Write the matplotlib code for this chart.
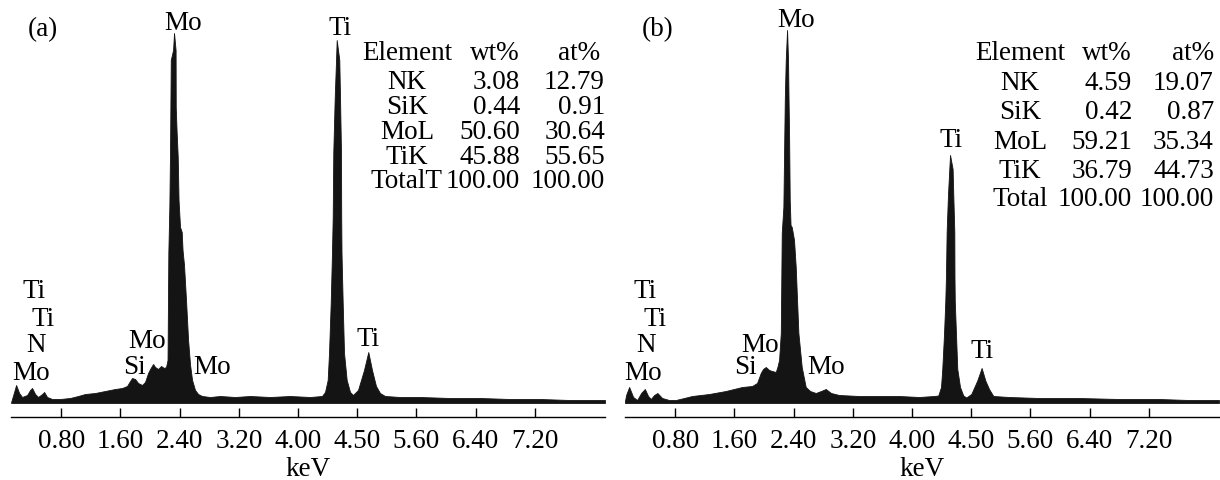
import matplotlib
matplotlib.use('Agg')
import matplotlib.pyplot as plt

plt.rcParams['font.family'] = ['Liberation Serif', 'DejaVu Serif']
plt.rcParams['font.size'] = 19.5

# spectrum (a): energy in keV, intensity in arbitrary units
energy_a = [0.122, 0.162, 0.189, 0.230, 0.270, 0.338, 0.378, 0.405, 0.446, 0.486,
            0.541, 0.568, 0.608, 0.676, 0.784, 0.919, 1.027, 1.122, 1.257, 1.392,
            1.527, 1.622, 1.689, 1.730, 1.757, 1.797, 1.838, 1.892, 1.932, 1.973,
            2.000, 2.041, 2.068, 2.108, 2.149, 2.189, 2.216, 2.236, 2.247, 2.261,
            2.270, 2.280, 2.311, 2.324, 2.345, 2.347, 2.358, 2.374, 2.385, 2.405,
            2.428, 2.439, 2.459, 2.486, 2.514, 2.541, 2.568, 2.608, 2.649, 2.703,
            2.811, 2.946, 3.149, 3.351, 3.622, 3.892, 4.162, 4.324, 4.365, 4.401,
            4.419, 4.442, 4.459, 4.469, 4.477, 4.496, 4.514, 4.523, 4.558, 4.568,
            4.581, 4.584, 4.588, 4.604, 4.622, 4.658, 4.703, 4.743, 4.811, 4.892,
            4.950, 5.000, 5.054, 5.108, 5.176, 5.378, 5.649, 6.054, 6.459, 6.865,
            7.270, 7.676, 8.149]
counts_a = [1, 11, 18, 10, 6, 8, 13, 15, 9, 6,
            9, 11, 6, 4, 4, 5, 7, 9, 10, 12,
            14, 15, 17, 22, 25, 24, 20, 18, 21, 30,
            34, 39, 36, 34, 37, 35, 36, 43, 150, 198,
            253, 343, 353, 370, 353, 296, 273, 246, 203, 176,
            171, 153, 138, 103, 63, 38, 23, 13, 9, 7,
            6, 7, 6, 7, 6, 7, 6, 7, 11, 23,
            50, 100, 150, 186, 251, 305, 343, 363, 343, 305,
            251, 186, 150, 100, 50, 23, 11, 8, 13, 33,
            51, 33, 17, 10, 7, 6, 6, 5, 5, 4,
            4, 3, 3]

# spectrum (b)
energy_b = [0.120, 0.135, 0.176, 0.230, 0.284, 0.338, 0.388, 0.432, 0.469, 0.514,
            0.558, 0.622, 0.716, 0.807, 0.919, 1.027, 1.257, 1.482, 1.703, 1.838,
            1.905, 1.955, 1.986, 2.023, 2.068, 2.108, 2.158, 2.180, 2.203, 2.226,
            2.239, 2.261, 2.280, 2.293, 2.311, 2.324, 2.331, 2.338, 2.347, 2.358,
            2.374, 2.405, 2.428, 2.464, 2.509, 2.563, 2.622, 2.699, 2.770, 2.834,
            2.905, 3.014, 3.284, 3.554, 3.824, 4.095, 4.297, 4.355, 4.392, 4.409,
            4.432, 4.450, 4.459, 4.468, 4.486, 4.504, 4.514, 4.549, 4.558, 4.572,
            4.574, 4.578, 4.595, 4.612, 4.649, 4.693, 4.734, 4.801, 4.882, 4.941,
            4.991, 5.041, 5.099, 5.311, 5.716, 6.257, 6.797, 7.338, 7.743, 8.149]
counts_b = [2, 8, 16, 6, 3, 10, 14, 7, 4, 8,
            10, 5, 3, 3, 5, 7, 9, 12, 16, 17,
            20, 30, 34, 36, 33, 32, 31, 36, 43, 70,
            170, 196, 303, 343, 373, 343, 303, 270, 203, 178,
            176, 163, 136, 70, 36, 16, 12, 10, 12, 14,
            10, 8, 7, 7, 7, 6, 7, 7.5, 16, 34,
            68, 102, 127, 171, 208, 234, 248, 234, 208, 171,
            127, 102, 68, 34, 16, 7.5, 5.5, 9, 22.5, 35,
            22.5, 14, 7, 6, 5, 5, 4, 4, 3, 3]

tick_pos = [0.8, 1.6, 2.4, 3.2, 4.0, 4.8, 5.6, 6.4, 7.2]
tick_labels = ['0.80', '1.60', '2.40', '3.20', '4.00', '4.50', '5.60', '6.40', '7.20']

# EDS quantification tables
elements_a = ['NK', 'SiK', 'MoL', 'TiK', 'TotalT']
wt_a = ['3.08', '0.44', '50.60', '45.88', '100.00']
at_a = ['12.79', '0.91', '30.64', '55.65', '100.00']
elements_b = ['NK', 'SiK', 'MoL', 'TiK', 'Total']
wt_b = ['4.59', '0.42', '59.21', '36.79', '100.00']
at_b = ['19.07', '0.87', '35.34', '44.73', '100.00']

# peak labels: (text, keV, height)
peaks_a = [('Mo', 2.446, 380), ('Ti', 4.568, 375),
           ('Ti', 0.432, 111), ('Ti', 0.554, 83), ('N', 0.459, 57), ('Mo', 0.392, 30),
           ('Mo', 1.959, 61), ('Si', 1.784, 36), ('Mo', 2.838, 36), ('Ti', 4.946, 63)]
peaks_b = [('Mo', 2.432, 383), ('Ti', 4.527, 263),
           ('Ti', 0.392, 111), ('Ti', 0.520, 83), ('N', 0.405, 57), ('Mo', 0.365, 29),
           ('Mo', 1.953, 57), ('Si', 1.750, 35), ('Mo', 2.838, 36), ('Ti', 4.946, 51)]


def draw_panel(ax, energy, counts, tag, peaks, elements, wt, at, cols, rows):
    ax.fill_between(energy, 0, counts, color='#141414', lw=0.6, edgecolor='#141414')
    ax.set_xlim(0.12, 8.15)
    ax.set_ylim(-14, 403)
    for s in ['top', 'left', 'right']:
        ax.spines[s].set_visible(False)
    ax.spines['bottom'].set_linewidth(1.0)
    ax.set_yticks([])
    ax.set_xticks(tick_pos)
    ax.set_xticklabels(tick_labels)
    ax.tick_params(axis='x', direction='in', length=6.5, width=1.0, pad=9)
    ax.set_xlabel('keV', labelpad=2)

    ax.text(0.34, 373, tag, ha='left', va='center')
    for txt, x, y in peaks:
        ax.text(x, y, txt, ha='center', va='center')

    xe, xw, xa, xa_head = cols
    ax.text(xe, rows[0], 'Element', ha='center', va='center')
    ax.text(xw, rows[0], 'wt%', ha='right', va='center')
    ax.text(xa_head, rows[0], 'at%', ha='right', va='center')
    for i in range(len(elements)):
        ax.text(xe, rows[i + 1], elements[i], ha='center', va='center')
        ax.text(xw, rows[i + 1], wt[i], ha='right', va='center')
        ax.text(xa, rows[i + 1], at[i], ha='right', va='center')


fig = plt.figure(figsize=(12.2, 4.8), dpi=100)
ax1 = fig.add_axes([11 / 1220, 63 / 480, 594 / 1220, 417 / 480])
ax2 = fig.add_axes([625 / 1220, 63 / 480, 594 / 1220, 417 / 480])

draw_panel(ax1, energy_a, counts_a, '(a)', peaks_a, elements_a, wt_a, at_a,
           (5.473, 7.0, 8.149, 8.08), [350, 321, 296, 271, 246, 221])
draw_panel(ax2, energy_b, counts_b, '(b)', peaks_b, elements_b, wt_b, at_b,
           (5.459, 6.973, 8.08, 8.08), [350, 320, 291, 261, 231, 203])

fig.savefig('out.png', dpi=100)
